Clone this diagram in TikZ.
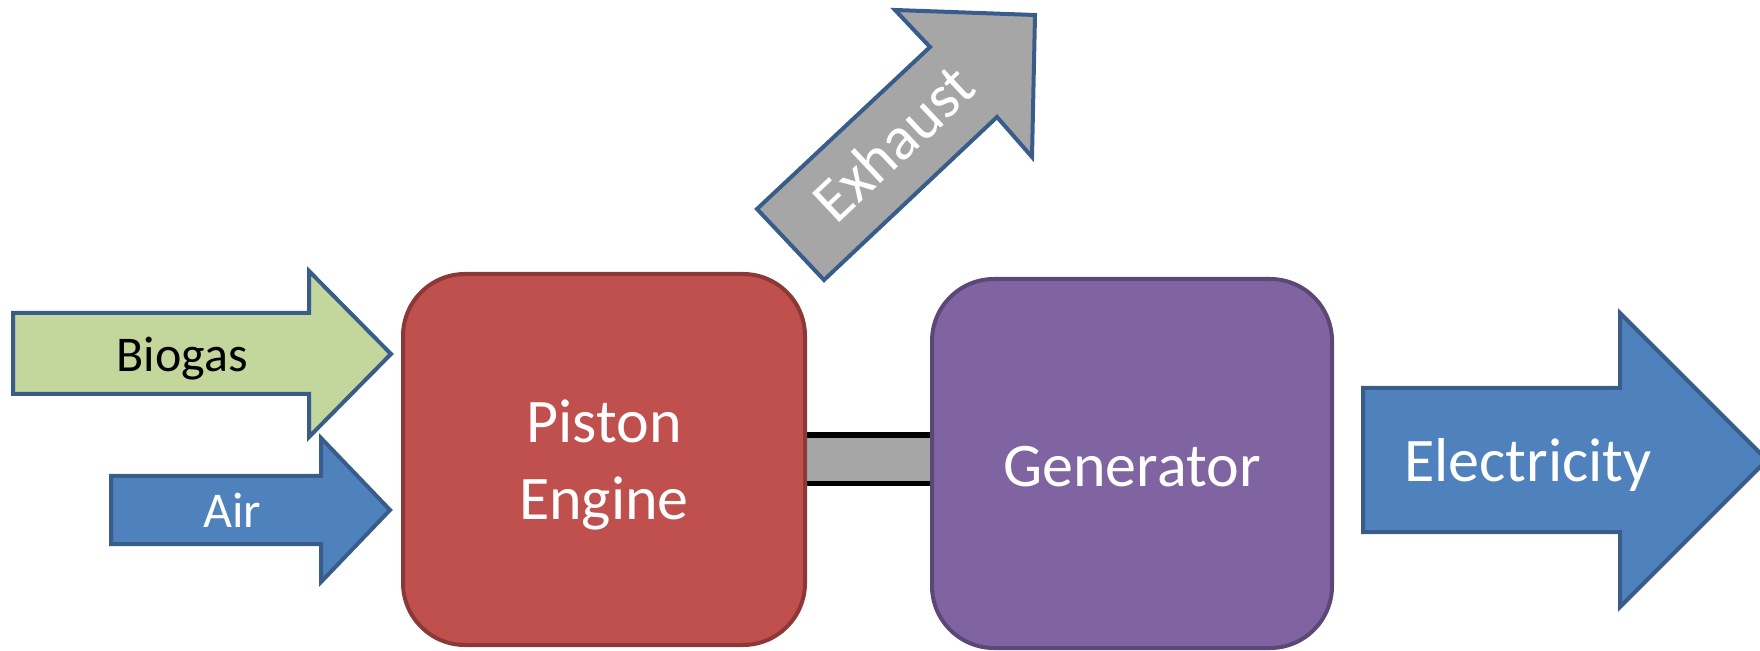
\documentclass[tikz,border=0pt]{standalone}
\usepackage{fontspec}
\setmainfont{Carlito}
\usetikzlibrary{backgrounds}
\definecolor{blueFill}{HTML}{4F81BD}
\definecolor{blueLine}{HTML}{385D8A}
\definecolor{greenFill}{HTML}{C3D69B}
\definecolor{grayFill}{HTML}{A6A6A6}
\definecolor{redFill}{HTML}{C0504D}
\definecolor{redLine}{HTML}{8C3836}
\definecolor{purpFill}{HTML}{8064A2}
\definecolor{purpLine}{HTML}{5C4776}
\tikzset{
  blockarrow/.style={draw=blueLine, line width=2pt, line join=miter},
  box/.style={rectangle, rounded corners=31pt, line width=2pt, inner sep=0pt},
  smalltxt/.style={anchor=base, inner sep=0pt, font=\fontsize{25}{30}\selectfont},
  bigtxt/.style={anchor=base, inner sep=0pt, font=\fontsize{31}{38}\selectfont, text=white},
}
\begin{document}
\begin{tikzpicture}[x=0.5pt, y=-0.5pt]
\useasboundingbox (0,0) rectangle (1760,651);
% boxes
\node[box, fill=redFill, draw=redLine, minimum width=201pt, minimum height=185.5pt] (engine) at (604,459.5) {};
\node[box, fill=purpFill, draw=purpLine, minimum width=200pt, minimum height=184.5pt] (gen) at (1132,463.5) {};
% shaft
\begin{scope}[on background layer]
\draw[line width=27pt, black] (engine.center) -- (engine.center -| gen.center);
\draw[line width=21.5pt, grayFill] (engine.center) -- (engine.center -| gen.center);
\end{scope}
% input arrows
\draw[blockarrow, fill=greenFill] (13,313) -- (309,313) -- (309,271) -- (391,354) -- (309,437) -- (309,394) -- (13,394) -- cycle;
\draw[blockarrow, fill=blueFill] (111,476) -- (321,476) -- (321,438) -- (390,510) -- (321,582) -- (321,544) -- (111,544) -- cycle;
% output arrow
\draw[blockarrow, fill=blueFill] (1363,388) -- (1620,388) -- (1620,313) -- (1767,460) -- (1620,607) -- (1620,532) -- (1363,532) -- cycle;
% exhaust arrow
\draw[blockarrow, fill=grayFill] (757,209) -- (930,47) -- (895,10) -- (1035,15) -- (1032,157) -- (997,117) -- (824,280) -- cycle;
% texts
\node[smalltxt] (tbio) at (182,372) {Biogas};
\node[smalltxt, text=white] (tair) at (232,527) {Air};
\node[bigtxt] (tpiston) at (604,443) {Piston};
\node[bigtxt] (tengine) at (604,519) {Engine};
\node[bigtxt] (tgen) at (1132,487) {Generator};
\node[bigtxt] (telec) at (1528,481) {Electricity};
\node[inner sep=0pt, font=\fontsize{31}{38}\selectfont, text=white, rotate=43.2] (texh) at (893,143) {Exhaust};
\end{tikzpicture}
\end{document}
